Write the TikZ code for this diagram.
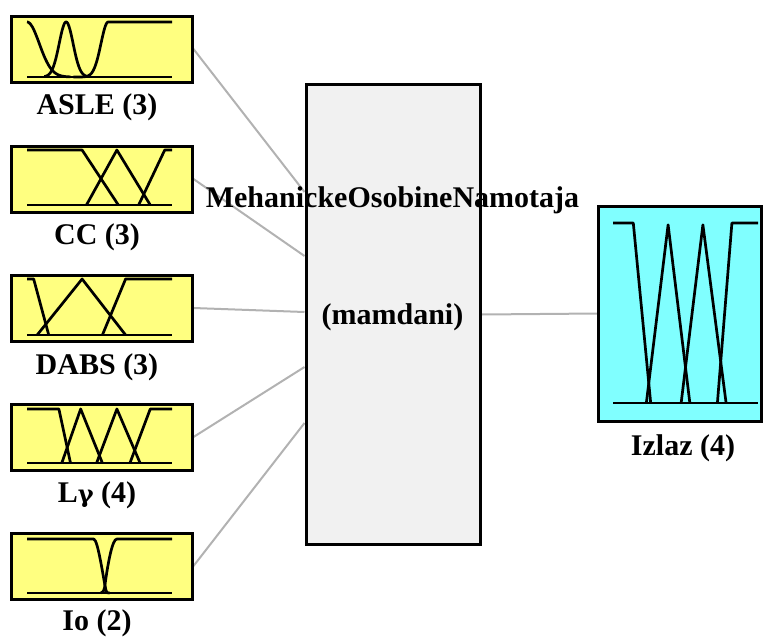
\documentclass[tikz,border=0pt]{standalone}
\usepackage{fontspec}
\setmainfont{Liberation Serif}
\usetikzlibrary{backgrounds}
\definecolor{inyellow}{RGB}{255,255,128}
\definecolor{outcyan}{RGB}{128,255,255}
\definecolor{fisgray}{RGB}{241,241,241}
\definecolor{linkgray}{RGB}{178,178,178}
\newfontfamily\greekfont{DejaVu Serif}
\tikzset{
  inbox/.style={draw=black, line width=3pt, fill=inyellow, minimum width=181pt, minimum height=66pt, inner sep=0pt},
  outbox/.style={draw=black, line width=3pt, fill=outcyan, minimum width=163pt, minimum height=215pt, inner sep=0pt},
  fisbox/.style={draw=black, line width=3pt, fill=fisgray, minimum width=174pt, minimum height=460pt, inner sep=0pt},
  lbl/.style={font=\fontsize{30}{34}\selectfont\bfseries, inner sep=0pt},
  mf/.style={line width=2.7pt, black, line join=round},
  link/.style={draw=linkgray, line width=2pt}
}
\begin{document}
\begin{tikzpicture}[x=1pt,y=-1pt]
\useasboundingbox (0,0) rectangle (764,638);
% boxes
\node[inbox] (in1) at (101.5,49) {};
\node[inbox] (in2) at (101.5,179) {};
\node[inbox] (in3) at (101.5,308) {};
\node[inbox] (in4) at (101.5,437) {};
\node[inbox] (in5) at (101.5,566) {};
\node[fisbox] (fis) at (393,314.5) {};
\node[outbox] (out) at (680,313.5) {};
% labels
\node[lbl] (l1) at (97,107) {ASLE (3)};
\node[lbl] (l2) at (97,237) {CC (3)};
\node[lbl] (l3) at (97,367) {DABS (3)};
\node[lbl] (l4) at (97,495) {L{\greekfont\fontsize{24}{28}\selectfont\bfseries γ}\ (4)};
\node[lbl] (l5) at (97,623) {Io (2)};
\node[lbl] (t1) at (392.5,200) {MehanickeOsobineNamotaja};
\node[lbl] (t2) at (392.5,317) {(mamdani)};
\node[lbl] (l6) at (683,448) {Izlaz (4)};
% connectors
\begin{scope}[on background layer]
\draw[link] (in1.east) -- ([yshift=122.5pt]fis.west);
\draw[link] (in2.east) -- ([yshift=58.5pt]fis.west);
\draw[link] (in3.east) -- ([yshift=2.5pt]fis.west);
\draw[link] (in4.east) -- ([yshift=-52.5pt]fis.west);
\draw[link] (in5.east) -- ([yshift=-108.5pt]fis.west);
\draw[link] (fis.east) -- (out.west);
\end{scope}
% MF: ASLE
\begin{scope}[shift={(27,77)}, x=145pt, y=55pt]
  \draw[mf] (0,0) -- (1,0);
  \draw[mf] plot[domain=0:0.3, samples=40, smooth] (\x,{exp(-(\x)^2/(2*0.085^2))});
  \draw[mf] plot[domain=0.12:0.42, samples=40, smooth] (\x,{exp(-(\x-0.27)^2/(2*0.048^2))});
  \draw[mf] plot[domain=0.32:0.56, samples=40, smooth] (\x,{exp(-(\x-0.56)^2/(2*0.05^2))}) -- (1,1);
\end{scope}
% MF: CC
\begin{scope}[shift={(27,205)}, x=145pt, y=55pt]
  \draw[mf] (0,0) -- (1,0);
  \draw[mf] (0,1) -- (0.38,1) -- (0.63,0);
  \draw[mf] (0.41,0) -- (0.62,1) -- (0.85,0);
  \draw[mf] (0.77,0) -- (0.95,1) -- (1,1);
\end{scope}
% MF: DABS
\begin{scope}[shift={(27,335)}, x=145pt, y=56pt]
  \draw[mf] (0,0) -- (1,0);
  \draw[mf] (0,1) -- (0.046,1) -- (0.15,0);
  \draw[mf] (0.07,0) -- (0.38,1) -- (0.68,0);
  \draw[mf] (0.52,0) -- (0.68,1) -- (1,1);
\end{scope}
% MF: Lgamma
\begin{scope}[shift={(27,463)}, x=145pt, y=54pt]
  \draw[mf] (0,0) -- (1,0);
  \draw[mf] (0,1) -- (0.22,1) -- (0.30,0);
  \draw[mf] (0.24,0) -- (0.37,1) -- (0.52,0);
  \draw[mf] (0.48,0) -- (0.62,1) -- (0.78,0);
  \draw[mf] (0.71,0) -- (0.85,1) -- (1,1);
\end{scope}
% MF: Io
\begin{scope}[shift={(27,593)}, x=145pt, y=54pt]
  \draw[mf] (0,0) -- (1,0);
  \draw[mf] (0,1) -- (0.46,1) .. controls (0.49,1) and (0.53,0.2) .. (0.545,0.05) .. controls (0.55,0) .. (0.57,0);
  \draw[mf] (0.51,0) .. controls (0.525,0) and (0.53,0.05) .. (0.535,0.1) .. controls (0.56,0.6) and (0.59,1) .. (0.62,1) -- (1,1);
\end{scope}
% MF: Izlaz
\begin{scope}[shift={(613,403)}, x=145pt, y=180pt]
  \draw[mf] (0,0) -- (1,0);
  \draw[mf] (0,1) -- (0.14,1) -- (0.26,0);
  \draw[mf] (0.23,0) -- (0.38,0.99) -- (0.53,0);
  \draw[mf] (0.47,0) -- (0.62,0.99) -- (0.78,0);
  \draw[mf] (0.72,0) -- (0.82,1) -- (1,1);
\end{scope}
\end{tikzpicture}
\end{document}
